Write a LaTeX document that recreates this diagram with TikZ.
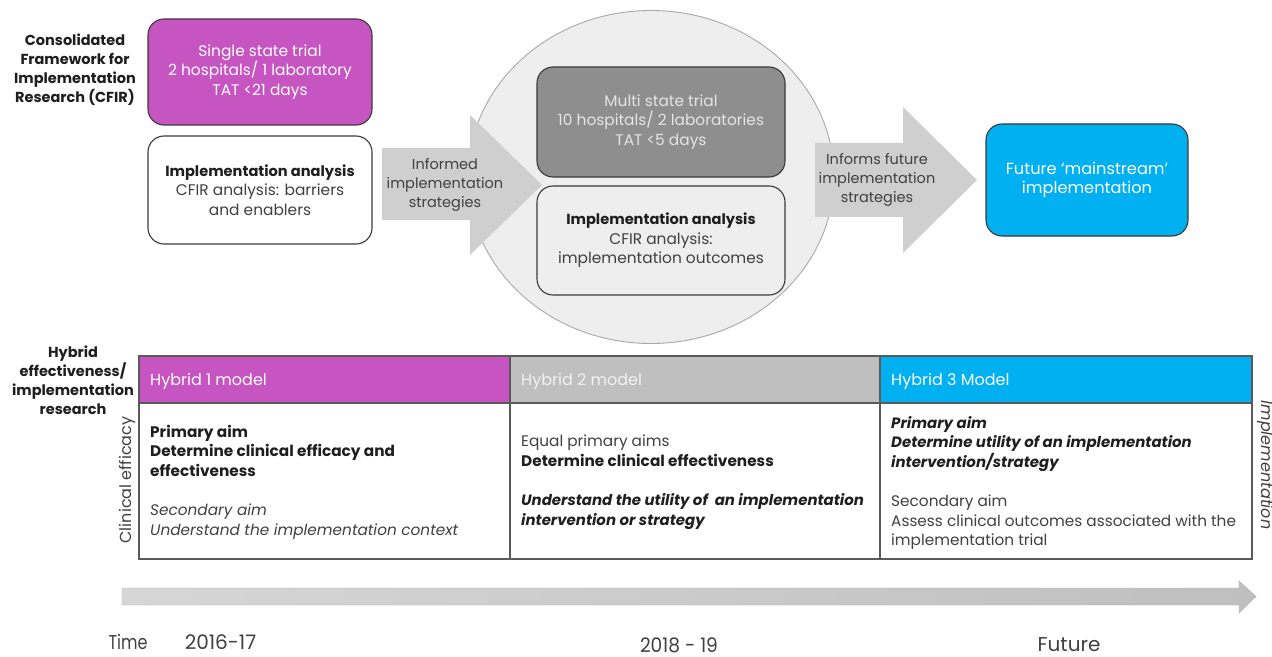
\documentclass[tikz,border=0pt]{standalone}
\usepackage{fontspec}
\setmainfont{Poppins}
\usetikzlibrary{shapes.geometric}
\definecolor{mag}{HTML}{C655C1}
\definecolor{cyanb}{HTML}{00B0F0}
\definecolor{hgray}{HTML}{BFBFBF}
\definecolor{dgray}{HTML}{8E8E8E}
\definecolor{circ}{HTML}{EEEEEE}
\definecolor{circline}{HTML}{A8A8A8}
\definecolor{arr}{HTML}{D0CFCF}
\definecolor{edge}{HTML}{3A3A3A}
\definecolor{txt}{HTML}{1E1E1E}
\definecolor{txtg}{HTML}{404040}
\definecolor{tline}{HTML}{5A5A5A}
\definecolor{tl}{HTML}{D6D6D6}
\definecolor{tr}{HTML}{BFBFBF}
\newcommand\bitx[1]{{\fontsize{14.95bp}{19.5bp}\selectfont\bfseries\itshape\color{txt}#1}}
\begin{document}
\begin{tikzpicture}[x=1bp,y=-1bp,
  txtstyle/.style={font=\fontsize{15.4bp}{19.5bp}\selectfont, text=txtg, align=center, inner sep=0},
  arrlab/.style={font=\fontsize{14.5bp}{19bp}\selectfont, text=txtg, align=center, inner sep=0},
  sidelab/.style={font=\bfseries\fontsize{14.5bp}{19bp}\selectfont, text=txt, align=center, inner sep=0},
  rbox/.style={draw=edge, line width=1.1bp, rounded corners=16bp, minimum width=224bp, minimum height=106bp, inner sep=0},
  cell/.style={font=\fontsize{15.3bp}{19.5bp}\selectfont, text=txtg, align=left, inner sep=0, anchor=west},
  head/.style={font=\fontsize{16bp}{19.5bp}\selectfont, text=white, inner sep=0, anchor=west},
  rotlab/.style={font=\fontsize{16bp}{19.5bp}\selectfont, text=txtg, inner sep=0},
  timelab/.style={font=\fontsize{20bp}{22bp}\selectfont, text=txtg, inner sep=0}
]
\useasboundingbox (0,0) rectangle (1272,657);

% left labels
\node[sidelab] (cfir) at (75,70) {Consolidated\\Framework for\\Implementation\\Research (CFIR)};
\node[sidelab] (hyb) at (73,380) {Hybrid\\effectiveness/\\implementation\\research};

% top left boxes
\node[rbox, fill=mag, minimum height=106bp] (single) at (260,72) {};
\node[txtstyle, text=white] (singlet) at (single.center) {Single state trial\\2 hospitals/ 1 laboratory\\TAT <21 days};
\node[rbox, fill=white, minimum height=108bp] (ana1) at (260,190) {};
\node[txtstyle] (ana1t) at (ana1.center) {{\fontsize{14.6bp}{19.5bp}\selectfont\bfseries\color{txt}Implementation analysis}\\CFIR analysis: barriers\\and enablers};

% circle
\node[draw=circline, fill=circ, line width=0.9bp, ellipse, minimum width=366bp, minimum height=333bp, inner sep=0] (circle) at (651,177) {};

% arrows
\fill[arr] (382,148) -- (470,148) -- (470,115) -- (542,185) -- (470,255) -- (470,220) -- (382,220) -- cycle;
\node[arrlab] (arr1t) at (445,185) {Informed\\implementation\\strategies};

\node[rbox, fill=dgray, minimum width=248bp, minimum height=110bp] (multi) at (661,122) {};
\node[txtstyle, text=white!90!black] (multit) at (multi.center) {Multi state trial\\10 hospitals/ 2 laboratories\\TAT <5 days};
\node[rbox, fill=circ, minimum width=248bp, minimum height=109bp] (ana2) at (661,240.5) {};
\node[txtstyle] (ana2t) at (ana2.center) {{\fontsize{14.6bp}{19.5bp}\selectfont\bfseries\color{txt}Implementation analysis}\\CFIR analysis:\\implementation outcomes};

\fill[arr] (815,143) -- (903,143) -- (903,107) -- (977,180) -- (903,253) -- (903,217) -- (815,217) -- cycle;
\node[arrlab] (arr2t) at (877,180) {Informs future\\implementation\\strategies};

\node[rbox, fill=cyanb, minimum width=202bp, minimum height=112bp] (future) at (1087,180) {};
\node[txtstyle, text=white, font=\fontsize{16.2bp}{19.5bp}\selectfont] (futuret) at (future.center) {Future ‘mainstream’\\implementation};

% table
\fill[mag] (139,356) rectangle (510,403);
\fill[hgray] (510,356) rectangle (880,403);
\fill[cyanb] (880,356) rectangle (1252,403);
\draw[tline, line width=1.5bp] (139,356) rectangle (1252,559);
\draw[tline, line width=1.5bp] (139,403) -- (1252,403);
\draw[tline, line width=1.5bp] (510,356) -- (510,559);
\draw[tline, line width=1.5bp] (880,356) -- (880,559);

\node[head] (h1) at (150,381) {Hybrid 1 model};
\node[head, text=white!95!black] (h2) at (521,381) {Hybrid 2 model};
\node[head] (h3) at (891,381) {Hybrid 3 Model};

\node[cell] (c1) at (150,482) {\textbf{\textcolor{txt}{Primary aim}}\\\textbf{\textcolor{txt}{Determine clinical efficacy and}}\\\textbf{\textcolor{txt}{effectiveness}}\\[20bp]\textit{Secondary aim}\\\textit{Understand the implementation context}};
\node[cell] (c2) at (521,482) {Equal primary aims\\\textbf{\textcolor{txt}{Determine clinical effectiveness}}\\[20bp]\bitx{Understand the utility of\ \ an implementation}\\\bitx{intervention or strategy}};
\node[cell] (c3) at (891,483) {\bitx{Primary aim}\\\bitx{Determine utility of an implementation}\\\bitx{intervention/strategy}\\[20bp]Secondary aim\\Assess clinical outcomes associated with the\\implementation trial};

\node[rotlab, rotate=90] (clin) at (127,480) {Clinical efficacy};
\node[rotlab, rotate=-90, font=\itshape\fontsize{16bp}{19.5bp}\selectfont] (impl) at (1265,465) {Implementation};

% time arrow
\shade[left color=tl, right color=tr, draw=tr!90!black, line width=0.4bp] (122,588) -- (1239,588) -- (1239,581) -- (1256,596.5) -- (1239,613) -- (1239,605) -- (122,605) -- cycle;

\node[timelab, xscale=0.8] (time) at (128,642) {Time};
\node[timelab] (y1) at (220.5,642) {2016-17};
\node[timelab, xscale=0.93] (y2) at (679,645) {2018 - 19};
\node[timelab] (y3) at (1069,645) {Future};
\end{tikzpicture}
\end{document}
